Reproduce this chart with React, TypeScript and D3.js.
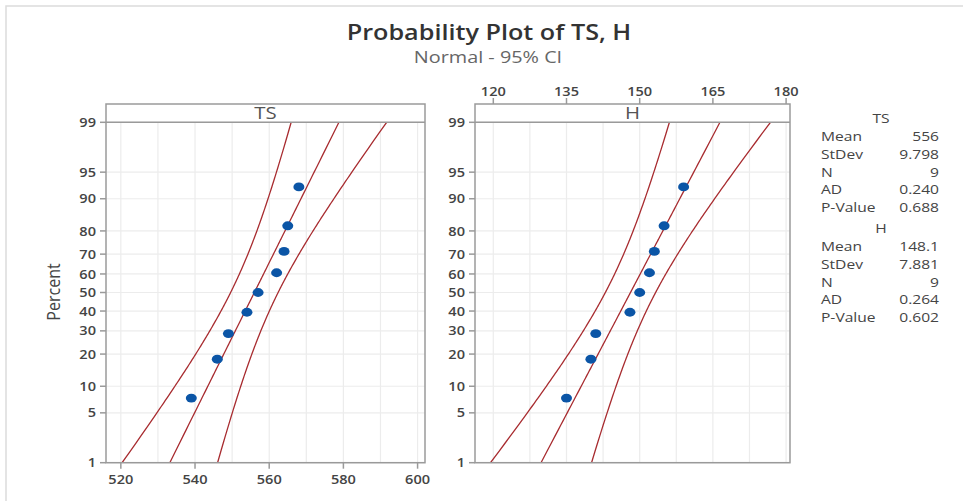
import React from "react";
import * as d3 from "d3";

// data
const TS = [539, 546, 549, 554, 557, 562, 564, 565, 568];
const H = [135, 140, 141, 148, 150, 152, 153, 155, 159];
const PERCENT_TICKS = [1, 5, 10, 20, 30, 40, 50, 60, 70, 80, 90, 95, 99];
const TS_TICKS = [520, 540, 560, 580, 600];
const TS_GRID = [520, 530, 540, 550, 560, 570, 580, 590, 600];
const H_TICKS = [120, 135, 150, 165, 180];
const H_GRID = [120, 127.5, 135, 142.5, 150, 157.5, 165, 172.5, 180];
const TS_STATS = [["Mean", "556"], ["StDev", "9.798"], ["N", "9"], ["AD", "0.240"], ["P-Value", "0.688"]];
const H_STATS = [["Mean", "148.1"], ["StDev", "7.881"], ["N", "9"], ["AD", "0.264"], ["P-Value", "0.602"]];

// inverse normal cdf (Acklam)
function probit(p: number) {
  const a = [-39.69683028665376, 220.9460984245205, -275.9285104469687, 138.357751867269, -30.66479806614716, 2.506628277459239];
  const b = [-54.47609879822406, 161.5858368580409, -155.6989798598866, 66.80131188771972, -13.28068155288572];
  const c = [-0.007784894002430293, -0.3223964580411365, -2.400758277161838, -2.549732539343734, 4.374664141464968, 2.938163982698783];
  const d = [0.007784695709041462, 0.3224671290700398, 2.445134137142996, 3.754408661907416];
  const pl = 0.02425;
  if (p < pl) {
    const q = Math.sqrt(-2 * Math.log(p));
    return (((((c[0] * q + c[1]) * q + c[2]) * q + c[3]) * q + c[4]) * q + c[5]) / ((((d[0] * q + d[1]) * q + d[2]) * q + d[3]) * q + 1);
  }
  if (p > 1 - pl) {
    const q = Math.sqrt(-2 * Math.log(1 - p));
    return -(((((c[0] * q + c[1]) * q + c[2]) * q + c[3]) * q + c[4]) * q + c[5]) / ((((d[0] * q + d[1]) * q + d[2]) * q + d[3]) * q + 1);
  }
  const q = p - 0.5;
  const r = q * q;
  return ((((((a[0] * r + a[1]) * r + a[2]) * r + a[3]) * r + a[4]) * r + a[5]) * q) / (((((b[0] * r + b[1]) * r + b[2]) * r + b[3]) * r + b[4]) * r + 1);
}

const FONT = "'Open Sans', 'Noto Sans', sans-serif";
const RED = "#a82c30";
const BLUE = "#0b55a6";
const FRAME = "#9a9a9a";
const TXT = "#444";

const top99 = 122.3;
const bottom1 = 462.7;
const frameTop = 104;
const y = d3.scaleLinear().domain([probit(0.01), probit(0.99)]).range([bottom1, top99]);

// the original picture is a bit wider than tall, so text is stretched sideways
function T({ x, y, sx = 1.2, children, ...rest }: any) {
  return (
    <text transform={`translate(${x},${y}) scale(${sx},1)`} fontFamily={FONT} {...rest}>
      {children}
    </text>
  );
}

function Panel({ id, data, x, title, ticks, grid, axisTop }: any) {
  const [x0, x1] = x.range();
  const n = data.length;
  const m = d3.mean(data) as number;
  const s = d3.deviation(data) as number;
  const ps = d3.range(0.005, 0.9951, 0.005);
  const band = (k: number) =>
    d3.line<number>()
      .x((p) => {
        const z = probit(p);
        const se = s * Math.sqrt(1 / n + (z * z) / (2 * (n - 1)));
        return x(m + s * z + k * 1.96 * se);
      })
      .y((p) => y(probit(p)))(ps);
  const sorted = [...data].sort((a, b) => a - b);
  return (
    <g>
      <defs>
        <clipPath id={"clip-" + id}>
          <rect x={x0} y={top99} width={x1 - x0} height={bottom1 - top99} />
        </clipPath>
      </defs>
      {grid.map((g: number) => (
        <line key={"gx" + g} x1={x(g)} x2={x(g)} y1={top99} y2={bottom1} stroke="#ececec" strokeWidth={1.2} />
      ))}
      {PERCENT_TICKS.map((t) => (
        <line key={"gy" + t} x1={x0} x2={x1} y1={y(probit(t / 100))} y2={y(probit(t / 100))} stroke="#ececec" strokeWidth={1.2} />
      ))}
      <g clipPath={`url(#clip-${id})`}>
        {[-1, 0, 1].map((k) => (
          <path key={k} d={band(k) as string} fill="none" stroke={RED} strokeWidth={1.3} />
        ))}
      </g>
      {sorted.map((v, i) => (
        <ellipse key={i} cx={x(v)} cy={y(probit((i + 1 - 0.3) / (n + 0.4)))} rx={5.5} ry={4.4} fill={BLUE} />
      ))}
      {/* frame and strip */}
      <rect x={x0} y={frameTop} width={x1 - x0} height={bottom1 - frameTop} fill="none" stroke={FRAME} strokeWidth={1.5} />
      <line x1={x0} x2={x1} y1={top99} y2={top99} stroke={FRAME} strokeWidth={1.5} />
      <T x={(x0 + x1) / 2} y={119} textAnchor="middle" fontSize={17} fill="#555">{title}</T>
      {/* y axis */}
      {PERCENT_TICKS.map((t) => (
        <g key={"yt" + t}>
          <line x1={x0 - 6} x2={x0} y1={y(probit(t / 100))} y2={y(probit(t / 100))} stroke={FRAME} strokeWidth={1.5} />
          <T x={x0 - 10} y={y(probit(t / 100)) + 4.6} sx={1.12} textAnchor="end" fontSize={13} fontWeight={600} fill={TXT}>{t}</T>
        </g>
      ))}
      {/* x axis */}
      {ticks.map((t: number) =>
        axisTop ? (
          <g key={"xt" + t}>
            <line x1={x(t)} x2={x(t)} y1={frameTop - 6} y2={frameTop} stroke={FRAME} strokeWidth={1.5} />
            <T x={x(t)} y={frameTop - 8} sx={1.12} textAnchor="middle" fontSize={13} fontWeight={600} fill={TXT}>{t}</T>
          </g>
        ) : (
          <g key={"xt" + t}>
            <line x1={x(t)} x2={x(t)} y1={bottom1} y2={bottom1 + 6} stroke={FRAME} strokeWidth={1.5} />
            <T x={x(t)} y={bottom1 + 21} sx={1.12} textAnchor="middle" fontSize={13} fontWeight={600} fill={TXT}>{t}</T>
          </g>
        )
      )}
    </g>
  );
}

function Stats({ title, rows, top }: any) {
  return (
    <g fill={TXT}>
      <T x={881} y={top} textAnchor="middle" fontSize={13} fill={TXT}>{title}</T>
      {rows.map((r: string[], i: number) => (
        <g key={r[0]}>
          <T x={821} y={top + 18 + i * 17.8} fontSize={13} fill={TXT}>{r[0]}</T>
          <T x={939} y={top + 18 + i * 17.8} textAnchor="end" fontSize={13} fill={TXT}>{r[1]}</T>
        </g>
      ))}
    </g>
  );
}

export default function App() {
  const xTS = d3.scaleLinear().domain([516, 602]).range([106, 425]);
  const xH = d3.scaleLinear().domain([116.25, 180.8]).range([475, 790]);
  return (
    <svg width={963} height={501} style={{ position: "absolute", left: 0, top: 0, background: "#fff" }}>
      <rect x={6} y={6} width={1000} height={1000} fill="#fff" stroke="#dcdcdc" strokeWidth={1.5} />
      <T x={489} y={39.5} sx={1.2} textAnchor="middle" fontSize={21} fontWeight={600} fill="#333">
        Probability Plot of TS, H
      </T>
      <T x={488} y={62.5} sx={1.28} textAnchor="middle" fontSize={15.5} fill="#666">
        Normal - 95% CI
      </T>
      <text transform="translate(60,292) rotate(-90) scale(1,1.15)" textAnchor="middle" fontSize={16} fill="#444" fontFamily={FONT}>
        Percent
      </text>
      <Panel id="ts" data={TS} x={xTS} title="TS" ticks={TS_TICKS} grid={TS_GRID} axisTop={false} />
      <Panel id="h" data={H} x={xH} title="H" ticks={H_TICKS} grid={H_GRID} axisTop={true} />
      <Stats title="TS" rows={TS_STATS} top={123} />
      <Stats title="H" rows={H_STATS} top={233} />
    </svg>
  );
}
